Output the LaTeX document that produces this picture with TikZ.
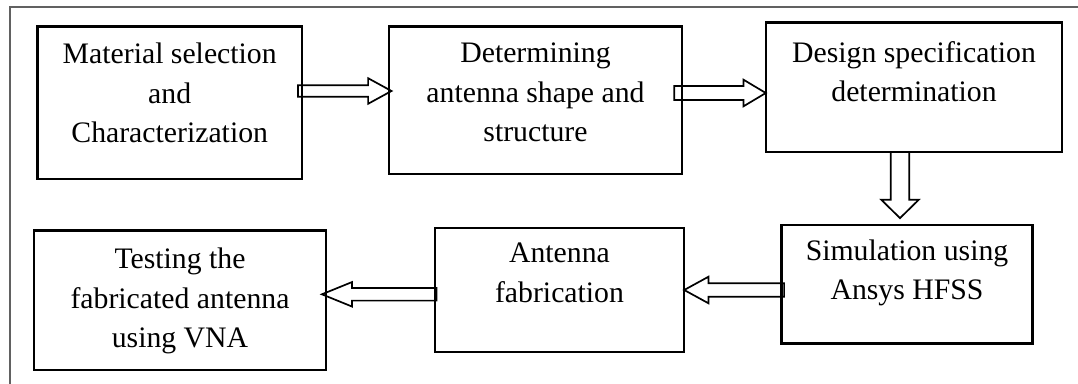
\documentclass[tikz,border=0pt]{standalone}
\usepackage{fontspec}
\setmainfont{Liberation Serif}
\usetikzlibrary{calc}
\newcommand{\blkarrow}[6]{%
  \coordinate (#1h) at ($(#3)!#6pt!(#2)$);
  \draw[barrow] ($(#2)!#4pt!90:(#3)$) -- ($(#1h)!#4pt!90:(#3)$) -- ($(#1h)!#5pt!90:(#3)$) -- (#3)
    -- ($(#1h)!#5pt!-90:(#3)$) -- ($(#1h)!#4pt!-90:(#3)$) -- ($(#2)!#4pt!-90:(#3)$) -- cycle;
}
\tikzset{
  flowbox/.style={draw, line width=2.4pt, inner sep=0pt, outer sep=0pt},
  txt/.style={font=\fontsize{29.75pt}{39.2pt}\selectfont, align=center, inner sep=0pt, anchor=north},
  barrow/.style={draw, fill=white, line width=1.7pt, line join=miter},
  frameline/.style={draw=black!62, line width=1.6pt}
}
\begin{document}
\begin{tikzpicture}[x=1pt, y=-1pt]
\clip (0,0) rectangle (1078,383);
\fill[white] (0,0) rectangle (1078,383);
\draw[frameline] (10,6.7) rectangle (1100,400);

% boxes (geometry only)
\path
  node[minimum width=264pt, minimum height=152.3pt] (b1) at (169.7,102.85) {}
  node[minimum width=292.4pt, minimum height=147.3pt] (b2) at (535.5,100.35) {}
  node[minimum width=296pt, minimum height=129pt] (b3) at (914,87.2) {}
  node[minimum width=250.6pt, minimum height=118.3pt] (b4) at (907,284.15) {}
  node[minimum width=249pt, minimum height=123.4pt] (b5) at (559.5,290) {}
  node[minimum width=291.4pt, minimum height=139.3pt] (b6) at (180,300.35) {};

% connector end points
\coordinate (a1s) at ($(b1.east |- 0,91)+(-4,0)$);
\coordinate (a1e) at ($(b2.west |- 0,91)+(2.4,0)$);
\coordinate (a2s) at ($(b2.east |- 0,93)+(-7.7,0)$);
\coordinate (a2e) at (b3.west |- 0,93);
\coordinate (a3s) at (900,0 |- b3.south);
\coordinate (a3e) at ($(900,0 |- b4.north)+(0,-6.7)$);
\coordinate (a4s) at ($(b4.west |- 0,290)+(2.6,0)$);
\coordinate (a4e) at (b5.east |- 0,290);
\coordinate (a5s) at ($(b5.west |- 0,294.3)+(1.7,0)$);
\coordinate (a5e) at ($(b6.east |- 0,294.3)+(-4,0)$);

\blkarrow{a1}{a1s}{a1e}{5.8}{12.8}{23.4}
\blkarrow{a2}{a2s}{a2e}{7}{13.3}{22.3}
\blkarrow{a3}{a3s}{a3e}{9.2}{18.7}{18.3}
\blkarrow{a4}{a4s}{a4e}{6.7}{13.3}{24.3}
\blkarrow{a5}{a5s}{a5e}{6.3}{12.2}{30}

% visible boxes
\foreach \b in {b1,b2,b3,b4,b5,b6}
  \draw[flowbox] (\b.north west) rectangle (\b.south east);

% texts
\node[txt] (t1) at (169.7,43.0) {Material selection\\and\\Characterization};
\node[txt] (t2) at (535.5,43.0) {Determining\\antenna shape and\\structure};
\node[txt] (t3) at (914,41.4) {Design specification\\determination};
\node[txt] (t4) at (907,239.7) {Simulation using\\Ansys HFSS};
\node[txt] (t5) at (559.5,243.0) {Antenna\\fabrication};
\node[txt] (t6) at (180,248.0) {Testing the\\fabricated antenna\\using VNA};
\end{tikzpicture}
\end{document}
